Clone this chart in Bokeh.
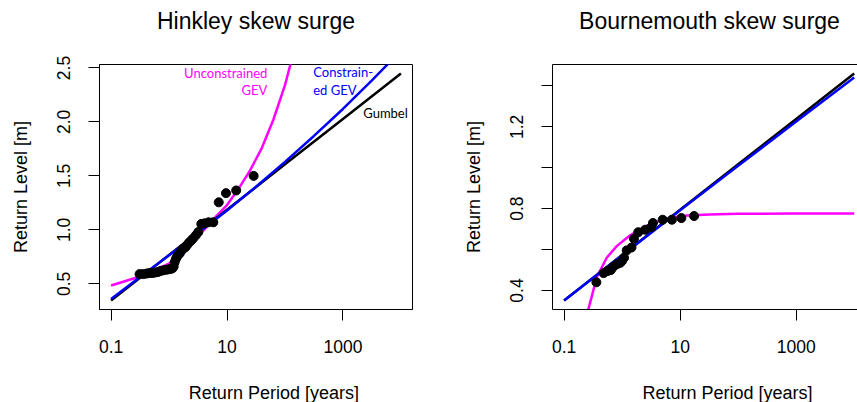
from bokeh.plotting import figure
from bokeh.layouts import row, column
from bokeh.models import FixedTicker, LogAxis, Label, Range1d
from bokeh.embed import file_html
from bokeh.resources import INLINE

# ---------------- data: Hinkley ----------------
hk_obs_T = [28.8, 14.4, 9.6, 7.2, 5.8, 4.8, 4.1, 3.6, 3.2, 2.9, 2.6, 2.4, 2.2, 2.05,
            1.92, 1.8, 1.7, 1.6, 1.52, 1.44, 1.37, 1.31, 1.25, 1.2, 1.15, 1.1, 1.0,
            0.9, 0.8, 0.72, 0.65, 0.58, 0.52, 0.46, 0.41, 0.36, 0.31]
hk_obs_level = [1.50, 1.365, 1.34, 1.255, 1.07, 1.07, 1.06, 1.055, 0.98, 0.95, 0.92,
                0.90, 0.88, 0.86, 0.84, 0.83, 0.82, 0.80, 0.78, 0.77, 0.75, 0.73, 0.70,
                0.66, 0.645, 0.64, 0.635, 0.63, 0.625, 0.62, 0.61, 0.605, 0.60, 0.60,
                0.595, 0.59, 0.59]
hk_gum_T = [0.1, 1, 10, 100, 1000, 10000]
hk_gum_level = [0.345, 0.766, 1.186, 1.607, 2.027, 2.448]
hk_cgev_T = [0.1, 0.316, 1, 3.16, 10, 31.6, 100, 316, 1000, 3162, 10000]
hk_cgev_level = [0.36, 0.562, 0.765, 0.97, 1.18, 1.40, 1.63, 1.87, 2.12, 2.385, 2.66]
hk_ugev_T = [0.1, 0.316, 1, 2, 4, 6.3, 10, 15.8, 25, 40, 63, 100, 158, 251]
hk_ugev_level = [0.484, 0.568, 0.686, 0.835, 1.0, 1.118, 1.23, 1.38, 1.551, 1.76,
                 2.02, 2.34, 2.75, 3.25]

# ---------------- data: Bournemouth ----------------
bm_obs_T = [17.4, 10.5, 7.2, 5.0, 3.4, 3.2, 2.5, 1.9, 1.6, 1.45, 1.2, 1.08, 1.0, 0.93,
            0.81, 0.7, 0.64, 0.56, 0.48, 0.36]
bm_obs_level = [0.764, 0.754, 0.746, 0.746, 0.73, 0.71, 0.697, 0.685, 0.653, 0.61,
                0.596, 0.56, 0.545, 0.535, 0.528, 0.515, 0.50, 0.495, 0.485, 0.44]
bm_gum_T = [0.1, 1, 10, 100, 1000, 10000]
bm_gum_level = [0.351, 0.573, 0.795, 1.017, 1.239, 1.461]
bm_cgev_T = [0.1, 1, 10, 100, 1000, 10000]
bm_cgev_level = [0.351, 0.572, 0.792, 1.01, 1.226, 1.441]
bm_ugev_T = [0.2, 0.263, 0.366, 0.543, 0.807, 1.374, 2.67, 5.15, 11.2, 31.6, 100,
             1000, 10000]
bm_ugev_level = [0.16, 0.31, 0.465, 0.56, 0.617, 0.67, 0.717, 0.748, 0.765, 0.772,
                 0.775, 0.776, 0.776]

x_ticks = [0.1, 10, 1000]
x_tick_labels = ["0.1", "10", "1000"]
hk_y_ticks = [0.5, 1.0, 1.5, 2.0, 2.5]
hk_y_tick_labels = ["0.5", "1.0", "1.5", "2.0", "2.5"]
bm_y_ticks = [0.4, 0.6, 0.8, 1.0, 1.2, 1.4]
bm_y_tick_labels = ["0.4", "", "0.8", "", "1.2", ""]

titles = ["Hinkley skew surge", "Bournemouth skew surge"]
x_label = "Return Period [years]"
y_label = "Return Level [m]"

FONT = "Liberation Sans"
ANN_FONT = "Lato"
MAGENTA = "#ff00ff"
BLUE = "#0000ff"
BLACK = "#000000"
W = 857
TOP_H = 36
BOT_H = 30
ROW_H = 402 - TOP_H - BOT_H


def strip(height):
    s = figure(width=W, height=height, x_range=Range1d(0, W), y_range=Range1d(0, height),
               output_backend="svg", toolbar_location=None, min_border=0,
               x_axis_location=None, y_axis_location=None)
    s.outline_line_color = None
    s.xgrid.visible = False
    s.ygrid.visible = False
    s.background_fill_color = "white"
    s.border_fill_color = "white"
    return s


def make_fig(width, border_left, border_right, x_end, y_range, yticks, ylabels, outline):
    p = figure(width=width, height=ROW_H, x_axis_type="log",
               x_range=Range1d(10 ** -1.2, x_end), y_range=Range1d(*y_range),
               output_backend="svg", toolbar_location=None,
               min_border_left=border_left, min_border_right=border_right,
               min_border_top=64 - TOP_H, min_border_bottom=ROW_H - (309 - TOP_H))
    p.background_fill_color = "white"
    p.border_fill_color = "white"
    p.xgrid.visible = False
    p.ygrid.visible = False

    xa = p.below[0]
    ya = p.left[0]
    for ax in (xa, ya):
        ax.axis_line_color = BLACK
        ax.axis_line_width = 1
        ax.major_tick_line_color = BLACK
        ax.major_tick_line_width = 1
        ax.major_tick_out = 11
        ax.major_tick_in = 0
        ax.minor_tick_line_color = None
        ax.major_label_text_font = FONT
        ax.major_label_text_font_size = "17.5px"
        ax.major_label_text_color = BLACK

    xa.ticker = FixedTicker(ticks=x_ticks)
    xa.major_label_overrides = dict(zip(x_ticks, x_tick_labels))
    xa.major_label_standoff = 19

    ya.ticker = FixedTicker(ticks=yticks)
    ya.major_label_overrides = dict(zip(yticks, ylabels))
    ya.major_label_orientation = "vertical"
    ya.major_label_standoff = 18
    ya.axis_label = y_label
    ya.axis_label_text_font = FONT
    ya.axis_label_text_font_size = "18px"
    ya.axis_label_text_font_style = "normal"
    ya.axis_label_text_color = BLACK
    ya.axis_label_standoff = 24

    if outline:
        p.outline_line_color = BLACK
        p.outline_line_width = 1
    else:
        p.outline_line_color = None
        top = LogAxis(ticker=FixedTicker(ticks=[]), major_label_text_font_size="0px",
                      major_tick_line_color=None, minor_tick_line_color=None,
                      axis_line_color=BLACK, axis_line_width=1)
        p.add_layout(top, "above")
    return p


# ---------------- title strip ----------------
top_strip = strip(TOP_H)
for txt, cx in zip(titles, [255.5, 709]):
    top_strip.add_layout(Label(x=cx, y=16, text=txt, text_align="center",
                               text_baseline="alphabetic", text_font=FONT,
                               text_font_size="23px", text_color=BLACK))

# ---------------- left panel ----------------
p1 = make_fig(430, 99, 18, 10 ** 4.2, (0.262, 2.532), hk_y_ticks, hk_y_tick_labels, True)
p1.line(hk_ugev_T, hk_ugev_level, line_color=MAGENTA, line_width=2.5)
p1.line(hk_gum_T, hk_gum_level, line_color=BLACK, line_width=2.5)
p1.line(hk_cgev_T, hk_cgev_level, line_color=BLUE, line_width=2.5)
p1.scatter(hk_obs_T, hk_obs_level, size=9, fill_color=BLACK, line_color=BLACK)

for txt, x, y, align, col in [("Unconstrained", 49.5, 2.451, "right", MAGENTA),
                              ("GEV", 49.5, 2.293, "right", MAGENTA),
                              ("Constrain-", 307, 2.46, "left", BLUE),
                              ("ed GEV", 307, 2.30, "left", BLUE),
                              ("Gumbel", 2240, 2.08, "left", BLACK)]:
    p1.add_layout(Label(x=x, y=y, text=txt, text_align=align, text_baseline="middle",
                        text_font=ANN_FONT, text_font_size="13px", text_color=col))

# ---------------- right panel ----------------
p2 = make_fig(427, 122, 0, 10 ** 4.057, (0.307, 1.505), bm_y_ticks, bm_y_tick_labels, False)
p2.line(bm_ugev_T, bm_ugev_level, line_color=MAGENTA, line_width=2.5)
p2.line(bm_gum_T, bm_gum_level, line_color=BLACK, line_width=2.5)
p2.line(bm_cgev_T, bm_cgev_level, line_color=BLUE, line_width=2.5)
p2.scatter(bm_obs_T, bm_obs_level, size=9, fill_color=BLACK, line_color=BLACK)

# ---------------- x-label strip ----------------
bottom_strip = strip(BOT_H)
for cx in [273.4, 727]:
    bottom_strip.add_layout(Label(x=cx, y=10, text=x_label, text_align="center",
                                  text_baseline="alphabetic", text_font=FONT,
                                  text_font_size="18px", text_color=BLACK))

layout = column(top_strip, row(p1, p2), bottom_strip)
open("out.html", "w").write(file_html(layout, INLINE))
